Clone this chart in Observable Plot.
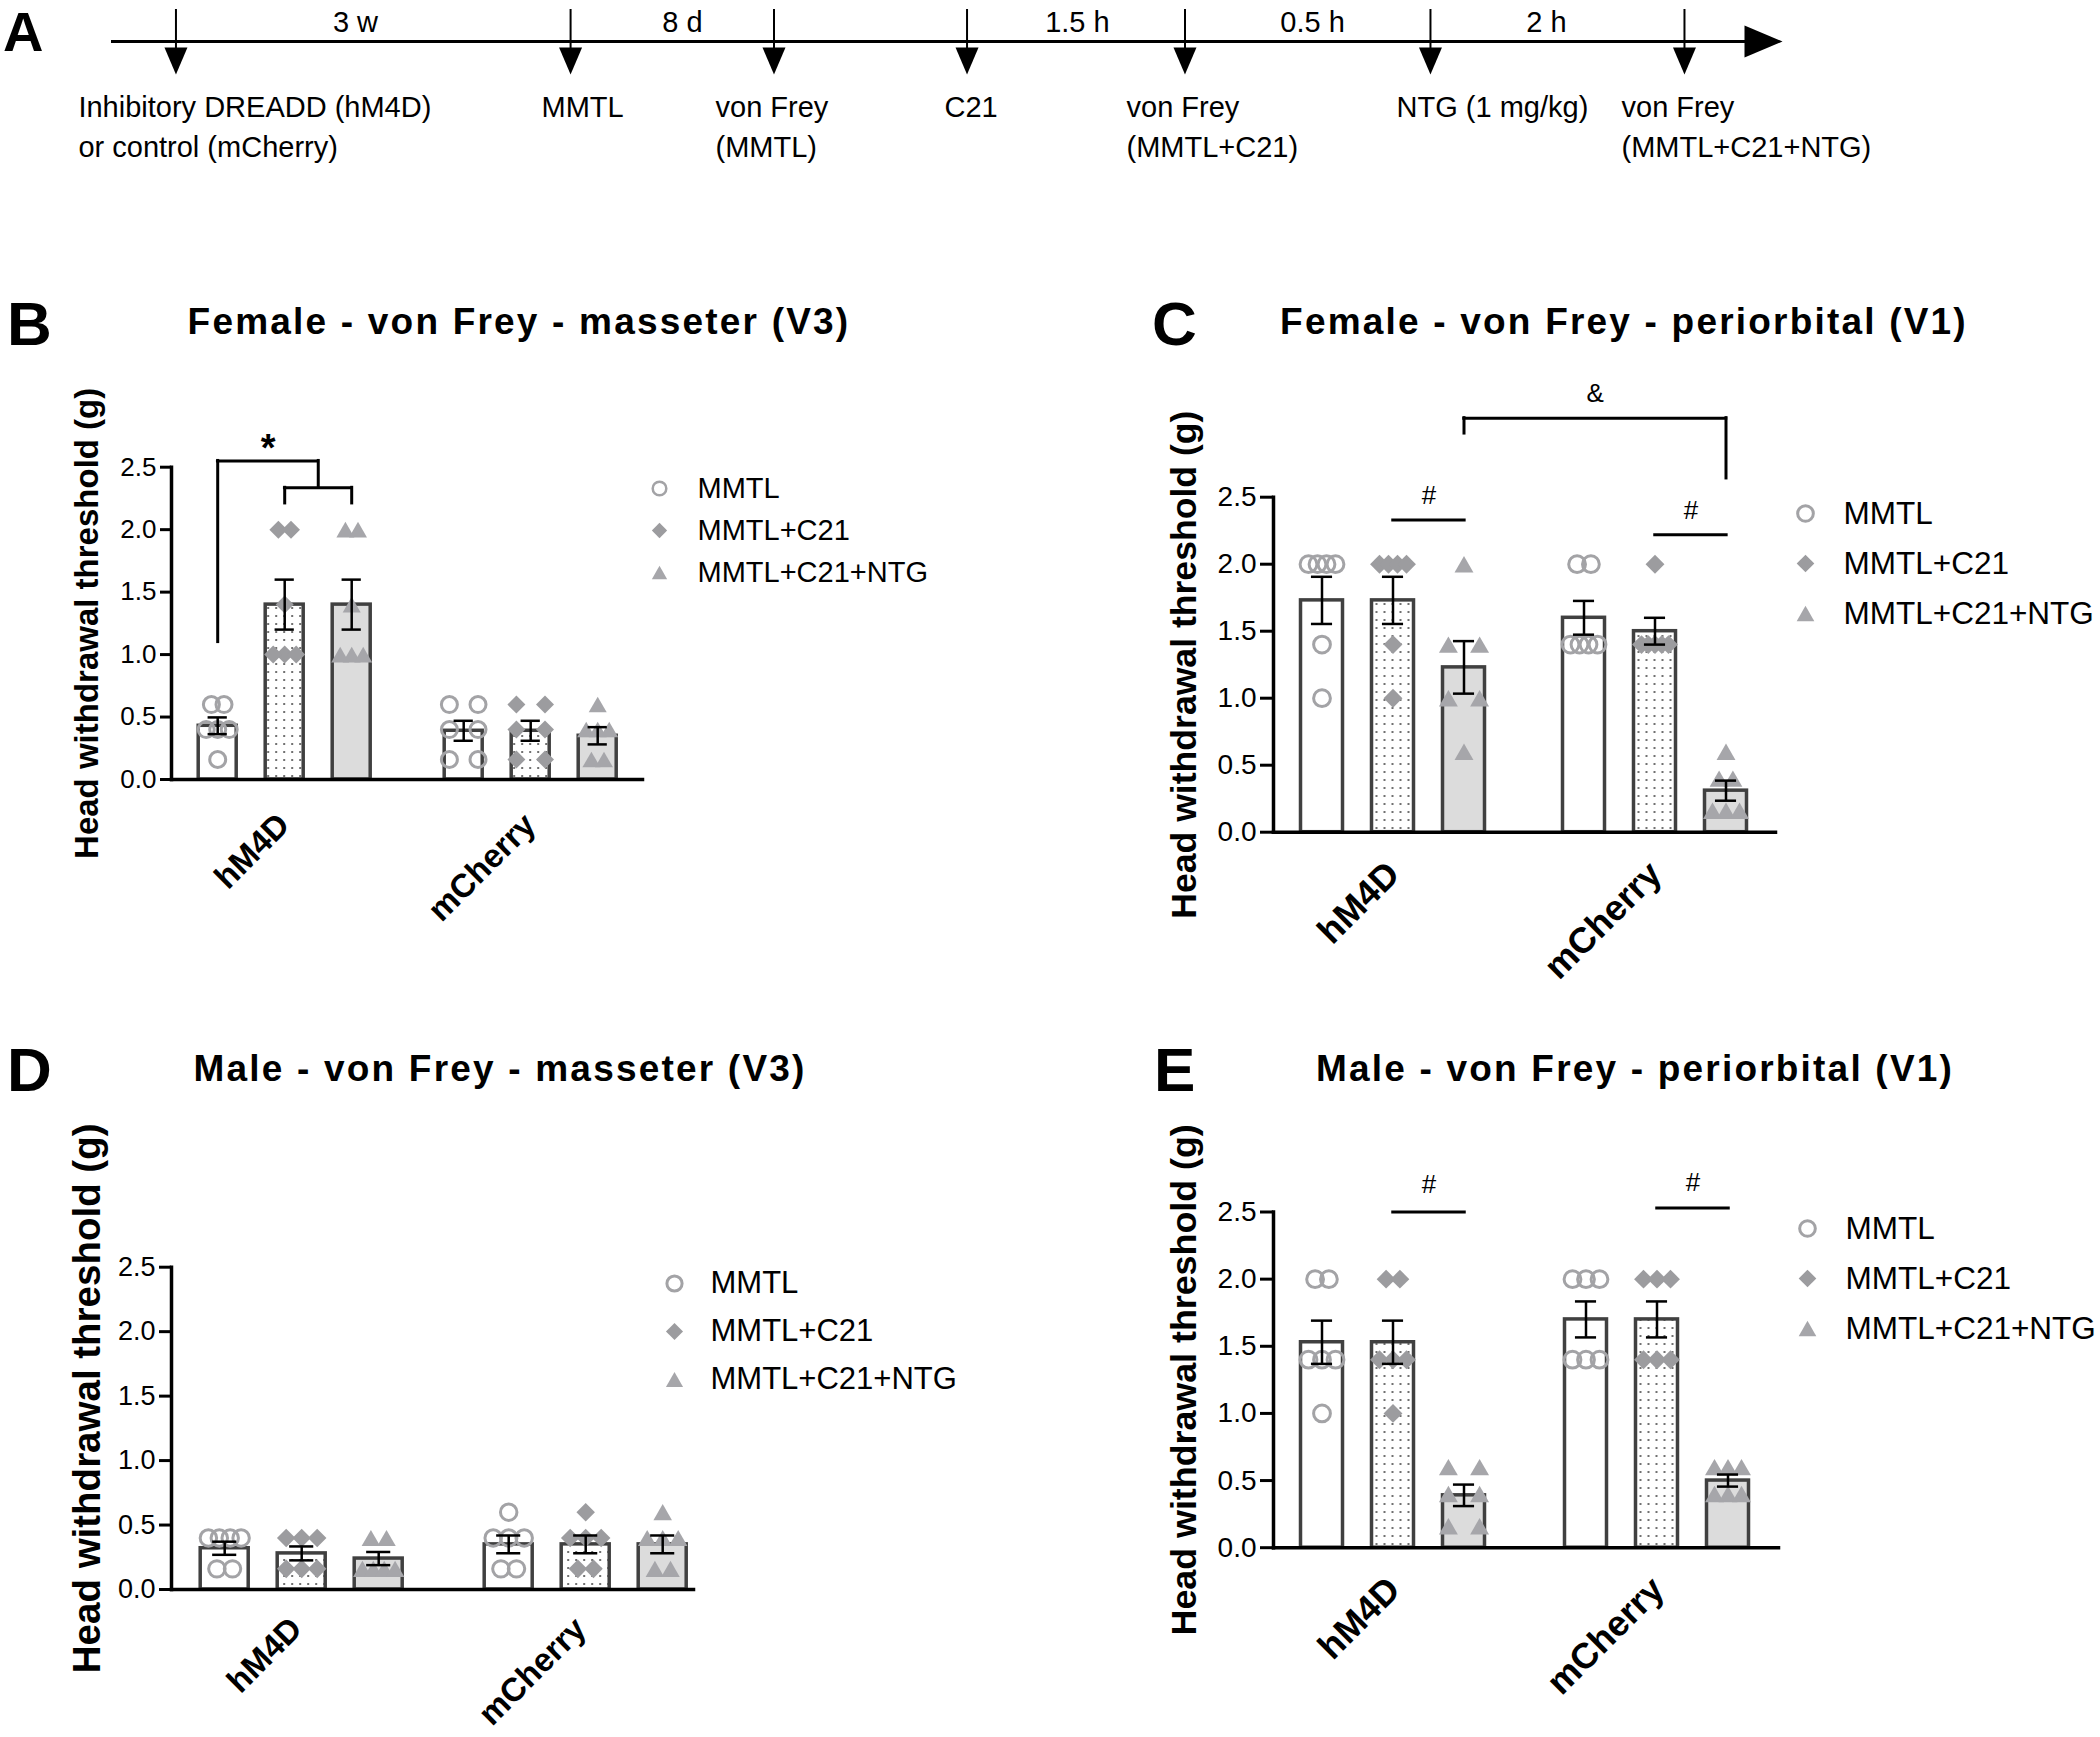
<!DOCTYPE html>
<html>
<head>
<meta charset="utf-8">
<script src="https://cdn.jsdelivr.net/npm/d3@7"></script>
<script src="https://cdn.jsdelivr.net/npm/@observablehq/plot@0.6"></script>
<style>
  html, body { margin: 0; padding: 0; background: #fff; }
  #fig { position: relative; width: 2100px; height: 1737px; background: #fff; overflow: hidden;
         font-family: "Liberation Sans", Arial, sans-serif; color: #000; }
  .abs { position: absolute; white-space: nowrap; }
  .letter { font-weight: bold; line-height: 0.75; }
  .title { font-weight: bold; font-size: 37px; letter-spacing: 2.2px; line-height: 0.75; transform: translateX(-50%); }
</style>
</head>
<body>
<svg width="0" height="0" style="position:absolute">
  <defs>
    <pattern id="dots" patternUnits="userSpaceOnUse" width="8" height="8">
      <circle cx="4" cy="4" r="0.95" fill="#333"/>
    </pattern>
  </defs>
</svg>
<div id="fig"></div>
<script>
// ---------------- DATA ----------------
const genotypes = ["hM4D", "mCherry"];
const conditions = ["MMTL", "MMTL+C21", "MMTL+C21+NTG"];
const yTicks = [0, 0.5, 1.0, 1.5, 2.0, 2.5];
const yLabel = "Head withdrawal threshold (g)";

// Panel A timeline (schematic positions along the time arrow, 0-100)
const eventPos = [3.80, 27.43, 39.61, 51.17, 64.22, 78.92, 94.13];
const eventLabelPos = [-2.04, 25.69, 36.11, 49.82, 60.72, 76.89, 90.36];
const eventLabels = ["Inhibitory DREADD (hM4D)\nor control (mCherry)", "MMTL", "von Frey\n(MMTL)", "C21",
                     "von Frey\n(MMTL+C21)", "NTG (1 mg/kg)", "von Frey\n(MMTL+C21+NTG)"];
const intervalPos = [14.55, 34.13, 57.78, 71.86, 85.87];
const intervalLabels = ["3 w", "8 d", "1.5 h", "0.5 h", "2 h"];

// Order of bars: hM4D (MMTL, +C21, +C21+NTG), mCherry (MMTL, +C21, +C21+NTG)
// B: Female - masseter (V3)
const bTitle = "Female - von Frey - masseter (V3)";
const bMeans = [0.43, 1.40, 1.40, 0.39, 0.39, 0.35];
const bSems  = [0.067, 0.20, 0.20, 0.080, 0.080, 0.069];
const bPoints = [
  [0.6, 0.6, 0.4, 0.4, 0.4, 0.16],
  [2.0, 2.0, 1.4, 1.0, 1.0, 1.0],
  [2.0, 2.0, 1.4, 1.0, 1.0, 1.0],
  [0.6, 0.6, 0.4, 0.4, 0.16, 0.16],
  [0.6, 0.6, 0.4, 0.4, 0.16, 0.16],
  [0.6, 0.4, 0.4, 0.4, 0.16, 0.16]
];
const bSig = [
  {from: ["hM4D", 0], to: ["hM4D", 1.5], level: 2.55, leftEnd: 1.10, rightEnd: 2.335, label: "*", labelLevel: 2.65},
  {from: ["hM4D", 1], to: ["hM4D", 2], level: 2.335, leftEnd: 2.21, rightEnd: 2.21, label: "", labelLevel: 0}
];

// C: Female - periorbital (V1)
const cTitle = "Female - von Frey - periorbital (V1)";
const cMeans = [1.73, 1.73, 1.23, 1.60, 1.50, 0.31];
const cSems  = [0.176, 0.176, 0.196, 0.126, 0.10, 0.075];
const cPoints = [
  [2.0, 2.0, 2.0, 2.0, 1.4, 1.0],
  [2.0, 2.0, 2.0, 2.0, 1.4, 1.0],
  [2.0, 1.4, 1.4, 1.0, 1.0, 0.6],
  [2.0, 2.0, 1.4, 1.4, 1.4, 1.4],
  [2.0, 1.4, 1.4, 1.4, 1.4, 1.4],
  [0.6, 0.4, 0.4, 0.16, 0.16, 0.16]
];
const cSig = [
  {from: ["hM4D", 1], to: ["hM4D", 2], level: 2.33, leftEnd: 2.33, rightEnd: 2.33, label: "#", labelLevel: 2.51},
  {from: ["mCherry", 1], to: ["mCherry", 2], level: 2.22, leftEnd: 2.22, rightEnd: 2.22, label: "#", labelLevel: 2.40},
  {from: ["hM4D", 2], to: ["mCherry", 2], level: 3.09, leftEnd: 2.975, rightEnd: 2.64, label: "&", labelLevel: 3.27}
];

// D: Male - masseter (V3)
const dTitle = "Male - von Frey - masseter (V3)";
const dMeans = [0.32, 0.28, 0.24, 0.35, 0.35, 0.35];
const dSems  = [0.051, 0.054, 0.051, 0.069, 0.069, 0.069];
const dPoints = [
  [0.4, 0.4, 0.4, 0.4, 0.16, 0.16],
  [0.4, 0.4, 0.4, 0.16, 0.16, 0.16],
  [0.4, 0.4, 0.16, 0.16, 0.16, 0.16],
  [0.6, 0.4, 0.4, 0.4, 0.16, 0.16],
  [0.6, 0.4, 0.4, 0.4, 0.16, 0.16],
  [0.6, 0.4, 0.4, 0.4, 0.16, 0.16]
];
const dSig = [];

// E: Male - periorbital (V1)
const eTitle = "Male - von Frey - periorbital (V1)";
const eMeans = [1.53, 1.53, 0.39, 1.70, 1.70, 0.50];
const eSems  = [0.161, 0.161, 0.080, 0.134, 0.134, 0.045];
const ePoints = [
  [2.0, 2.0, 1.4, 1.4, 1.4, 1.0],
  [2.0, 2.0, 1.4, 1.4, 1.4, 1.0],
  [0.6, 0.6, 0.4, 0.4, 0.16, 0.16],
  [2.0, 2.0, 2.0, 1.4, 1.4, 1.4],
  [2.0, 2.0, 2.0, 1.4, 1.4, 1.4],
  [0.6, 0.6, 0.6, 0.4, 0.4, 0.4]
];
const eSig = [
  {from: ["hM4D", 1], to: ["hM4D", 2], level: 2.50, leftEnd: 2.50, rightEnd: 2.50, label: "#", labelLevel: 2.70},
  {from: ["mCherry", 1], to: ["mCherry", 2], level: 2.53, leftEnd: 2.53, rightEnd: 2.53, label: "#", labelLevel: 2.72}
];

// ---------------- STYLE / LAYOUT ----------------
const FONT = '"Liberation Sans", Arial, sans-serif';
const BAR_SW = 3.5;
const BAR_STROKE = "#404040";
const BAR_FILL = {"MMTL": "white", "MMTL+C21": "url(#dots)", "MMTL+C21+NTG": "#dcdcdc"};
const triC = {draw(ctx, size) {
  const s = Math.sqrt(size) * 0.6824, u = s * Math.sqrt(3) / 2;
  ctx.moveTo(0, -0.75 * s); ctx.lineTo(u, 0.75 * s); ctx.lineTo(-u, 0.75 * s); ctx.closePath();
}};
const arrowDown = {draw(ctx, size) {
  const h = Math.sqrt(size / Math.PI), L = h * 27 / 11.5;
  ctx.moveTo(0, 0); ctx.lineTo(-h, -L); ctx.lineTo(h, -L); ctx.closePath();
}};
const arrowRight = {draw(ctx, size) {
  const h = Math.sqrt(size / Math.PI), L = h * 38 / 16;
  ctx.moveTo(0, 0); ctx.lineTo(-L, -h); ctx.lineTo(-L, h); ctx.closePath();
}};
function symStyle(cond, k) {
  if (cond === "MMTL") return {symbol: "circle", r: 8 * k, fill: "none", stroke: "#a3a3a6", strokeWidth: 3};
  if (cond === "MMTL+C21") return {symbol: "diamond2", r: 8.1 * k, fill: "#9c9c9f", stroke: "none"};
  return {symbol: triC, r: 8.6 * k, fill: "#a6a6aa", stroke: "none"};
}

const fig = document.getElementById("fig");
function place(el, left, top) {
  el.style.position = "absolute";
  el.style.left = left + "px";
  el.style.top = top + "px";
  el.style.maxWidth = "none";
  el.style.overflow = "visible";
  fig.appendChild(el);
}
function addText(cls, text, left, baseline, fs) {
  const d = document.createElement("div");
  d.className = "abs " + cls;
  d.textContent = text;
  d.style.fontSize = fs + "px";
  d.style.left = left + "px";
  d.style.top = (baseline - 0.7215 * fs) + "px";
  fig.appendChild(d);
}

// ---------------- PANEL A ----------------
(function panelA() {
  const events = eventPos.map((p, i) => ({pos: p, labelPos: eventLabelPos[i], label: eventLabels[i]}));
  const intervals = intervalLabels.map((l, i) => ({label: l, pos: intervalPos[i]}));
  const svg = Plot.plot({
    width: 2100, height: 180,
    marginLeft: 112, marginRight: 318, marginTop: 41, marginBottom: 139,
    x: {domain: [0, 100], axis: null},
    style: {fontFamily: FONT, fontSize: "29px", color: "black", background: "transparent", overflow: "visible"},
    marks: [
      Plot.frame({anchor: "top", stroke: "black", strokeWidth: 3, insetRight: 37}),
      Plot.dot([100], {x: d => d, symbol: arrowRight, r: 16, fill: "black", stroke: "none"}),
      Plot.ruleX(events, {x: "pos", insetTop: -32, insetBottom: -8, stroke: "black", strokeWidth: 2}),
      Plot.dot(events, {x: "pos", symbol: arrowDown, r: 11.5, dy: 33, fill: "black", stroke: "none"}),
      Plot.text(intervals, {x: "pos", text: "label", dy: -19, fontSize: 29, fill: "black"}),
      Plot.text(events, {x: "labelPos", text: "label", textAnchor: "start", lineAnchor: "top", dy: 47.5, fontSize: 29, lineHeight: 1.38, fill: "black"})
    ]
  });
  place(svg, 0, 0);
})();

// ---------------- BAR PANELS ----------------
function buildPanel(cfg, means, sems, pts, sig) {
  const bw = cfg.barOuter - BAR_SW, s = cfg.step, fxStep = cfg.c4 - cfg.c1;
  const a = cfg.c1 - bw / 2 - cfg.axisX;
  const b = cfg.frameRight - (cfg.c4 + 2 * s + bw / 2);
  const F = a + b + 2 * s + bw;
  const pi = (s - bw) / s;
  const po = (F / s - 3 + pi) / 2;
  const fxPI = (fxStep - F) / fxStep;
  const k = cfg.symK;

  const bars = means.map((m, i) => ({genotype: genotypes[Math.floor(i / 3)], condition: conditions[i % 3], mean: m, sem: sems[i]}));
  const points = [];
  pts.forEach((vals, i) => {
    const g = genotypes[Math.floor(i / 3)], c = conditions[i % 3];
    const counts = d3.rollup(vals, v => v.length, v => v);
    const maxRow = d3.max(counts.values());
    const seen = new Map();
    for (const v of vals) {
      const n = counts.get(v);
      const j = seen.get(v) ?? 0; seen.set(v, j + 1);
      const sp = maxRow <= 2 ? 0.68 * cfg.barOuter : Math.min(0.3 * cfg.barOuter, (cfg.barOuter - 19) / Math.max(1, n - 1));
      points.push({genotype: g, condition: c, value: v, dx: Math.round((j - (n - 1) / 2) * sp * 10) / 10});
    }
  });

  const marks = [];
  for (const c of conditions) {
    marks.push(Plot.barY(bars.filter(d => d.condition === c), {fx: "genotype", x: "condition", y: "mean",
      fill: BAR_FILL[c], stroke: BAR_STROKE, strokeWidth: BAR_SW}));
  }
  for (const [c, byDx] of d3.groups(points, p => p.condition, p => p.dx)) {
    for (const [dx, arr] of byDx) {
      marks.push(Plot.dot(arr, {fx: "genotype", x: "condition", y: "value", dx, ...symStyle(c, k)}));
    }
  }
  const cap = 0.47 * cfg.barOuter, capIn = (bw - cap) / 2;
  marks.push(
    Plot.ruleX(bars, {fx: "genotype", x: "condition", y1: d => d.mean - d.sem, y2: d => d.mean + d.sem, stroke: "black", strokeWidth: 2.5}),
    Plot.tickY(bars, {fx: "genotype", x: "condition", y: d => d.mean + d.sem, insetLeft: capIn, insetRight: capIn, stroke: "black", strokeWidth: 2.5}),
    Plot.tickY(bars, {fx: "genotype", x: "condition", y: d => d.mean - d.sem, insetLeft: capIn, insetRight: capIn, stroke: "black", strokeWidth: 2.5})
  );
  // significance annotations
  for (const br of sig) {
    const fi = Math.floor(br.from[1]), ff = br.from[1] - fi, cond = conditions[fi];
    const toOff = (br.to[0] !== br.from[0] ? fxStep : 0) + (br.to[1] - fi) * s;
    marks.push(Plot.ruleY([br], {fx: () => br.from[0], x1: () => cond, x2: () => cond, y: "level",
      insetLeft: bw / 2 + ff * s, insetRight: bw / 2 - toOff, stroke: "black", strokeWidth: 3, strokeLinecap: "square"}));
    if (br.leftEnd !== br.level) {
      marks.push(Plot.ruleX([br], {fx: () => br.from[0], x: () => cond, dx: ff * s, y1: "leftEnd", y2: "level", stroke: "black", strokeWidth: 3, strokeLinecap: "square"}));
    }
    if (br.rightEnd !== br.level) {
      const ti = Math.floor(br.to[1]), tf = br.to[1] - ti;
      marks.push(Plot.ruleX([br], {fx: () => br.to[0], x: () => conditions[ti], dx: tf * s, y1: "rightEnd", y2: "level", stroke: "black", strokeWidth: 3, strokeLinecap: "square"}));
    }
    if (br.label) {
      const mid = (ff * s + toOff) / 2;
      marks.push(Plot.text([br], {fx: () => br.from[0], x: () => cond, dx: mid, y: "labelLevel", text: "label",
        fontSize: br.label === "*" ? 38 : 26, fontWeight: br.label === "*" ? "bold" : "normal", fill: "black"}));
    }
  }
  const yMid = d3.mean([yTicks[0], yTicks[yTicks.length - 1]]);
  marks.push(
    Plot.axisY({ticks: yTicks, tickFormat: d3.format(".1f"), tickSize: cfg.tickSize, tickPadding: 4, strokeWidth: 3,
      fontSize: cfg.tickFont, label: null, stroke: "black", fill: "black"}),
    Plot.frame({anchor: "left", facetAnchor: "left", stroke: "black", strokeWidth: 3.5}),
    Plot.frame({anchor: "bottom", facet: "super", stroke: "black", strokeWidth: 3.5}),
    Plot.axisFx({anchor: "bottom", label: null, tickSize: 0, tickPadding: cfg.fxPad, tickRotate: -45, dx: cfg.fxDx || 0,
      fontSize: cfg.fxFont, fontWeight: "bold", fill: "black"}),
    Plot.text([yLabel], {fx: () => "hM4D", y: () => yMid, frameAnchor: "left", textAnchor: "middle", lineAnchor: "middle",
      rotate: -90, dx: -cfg.ylabOff, dy: cfg.ylabDy || 0, fontSize: cfg.ylabFont, fontWeight: "bold", fill: "black"})
  );

  const svg = Plot.plot({
    width: cfg.width, height: cfg.height,
    marginLeft: cfg.axisX - cfg.left,
    marginRight: cfg.left + cfg.width - cfg.frameRight,
    marginTop: cfg.yTop - cfg.top,
    marginBottom: cfg.top + cfg.height - cfg.y0,
    fx: {domain: genotypes, paddingInner: fxPI, paddingOuter: 0},
    x: {domain: conditions, paddingInner: pi, paddingOuter: po, align: a / (a + b), axis: null},
    y: {domain: [0, 2.5]},
    style: {fontFamily: FONT, fontSize: cfg.tickFont + "px", color: "black", background: "transparent", overflow: "visible"},
    marks
  });
  place(svg, cfg.left, cfg.top);
}

function buildLegend(lg) {
  const marks = conditions.map(c => {
    const st = symStyle(c, lg.symK);
    if (c === "MMTL") st.strokeWidth = lg.circleSW;
    return Plot.dot([c], {y: d => d, frameAnchor: "left", ...st});
  });
  marks.push(Plot.text(conditions, {y: d => d, text: d => d, frameAnchor: "left", textAnchor: "start", dx: lg.textDx, fontSize: lg.font, fill: "black"}));
  const svg = Plot.plot({
    width: 290, height: 3 * lg.row,
    marginLeft: 15, marginRight: 0, marginTop: 0, marginBottom: 0,
    y: {type: "point", domain: conditions, padding: 0.5, axis: null},
    style: {fontFamily: FONT, fontSize: lg.font + "px", color: "black", background: "transparent", overflow: "visible"},
    marks
  });
  place(svg, lg.x - 15, lg.y - 1.5 * lg.row);
}

buildPanel({left: 0, top: 380, width: 680, height: 520, axisX: 170.8, frameRight: 641.5, yTop: 466.7, y0: 779,
  c1: 216.7, c4: 462.8, step: 67.1, barOuter: 42, symK: 1, tickFont: 26, tickSize: 11, fxFont: 33, fxPad: 40,
  ylabFont: 33, ylabOff: 84}, bMeans, bSems, bPoints, bSig);
buildPanel({left: 1100, top: 360, width: 700, height: 680, axisX: 1272.5, frameRight: 1775, yTop: 496.7, y0: 831.7,
  c1: 1320, c4: 1582.5, step: 71.9, barOuter: 46, symK: 1.05, tickFont: 28, tickSize: 13, fxFont: 36, fxPad: 36,
  ylabFont: 35.6, ylabOff: 88.5}, cMeans, cSems, cPoints, cSig);
buildPanel({left: 0, top: 1180, width: 720, height: 557, axisX: 170.8, frameRight: 694, yTop: 1266.7, y0: 1589,
  c1: 223.5, c4: 508, step: 77.55, barOuter: 51.7, symK: 1.03, tickFont: 27, tickSize: 12, fxFont: 33, fxPad: 34, fxDx: 6,
  ylabFont: 38.5, ylabOff: 84, ylabDy: -30}, dMeans, dSems, dPoints, dSig);
buildPanel({left: 1100, top: 1140, width: 700, height: 597, axisX: 1272.5, frameRight: 1778, yTop: 1211.5, y0: 1547.2,
  c1: 1320.6, c4: 1584.7, step: 72, barOuter: 46, symK: 1.05, tickFont: 28, tickSize: 13, fxFont: 36, fxPad: 36,
  ylabFont: 35.8, ylabOff: 88.5}, eMeans, eSems, ePoints, eSig);

buildLegend({x: 659, y: 530, row: 42, textDx: 38, font: 29, symK: 0.85, circleSW: 2.5});
buildLegend({x: 1805, y: 563, row: 50, textDx: 38, font: 31.5, symK: 0.98, circleSW: 3});
buildLegend({x: 674, y: 1330.5, row: 48.5, textDx: 36, font: 31, symK: 0.95, circleSW: 3});
buildLegend({x: 1807, y: 1277.5, row: 50, textDx: 38, font: 31.5, symK: 0.98, circleSW: 3});

// ---------------- LETTERS & TITLES ----------------
addText("letter", "A", 3, 51, 56);
addText("letter", "B", 7, 346, 62);
addText("letter", "C", 1152, 346, 62);
addText("letter", "D", 7, 1092, 62);
addText("letter", "E", 1154, 1092, 62);
addText("title", bTitle, 519, 335, 37);
addText("title", cTitle, 1624, 335, 37);
addText("title", dTitle, 500, 1082, 37);
addText("title", eTitle, 1635, 1082, 37);
</script>
</body>
</html>
